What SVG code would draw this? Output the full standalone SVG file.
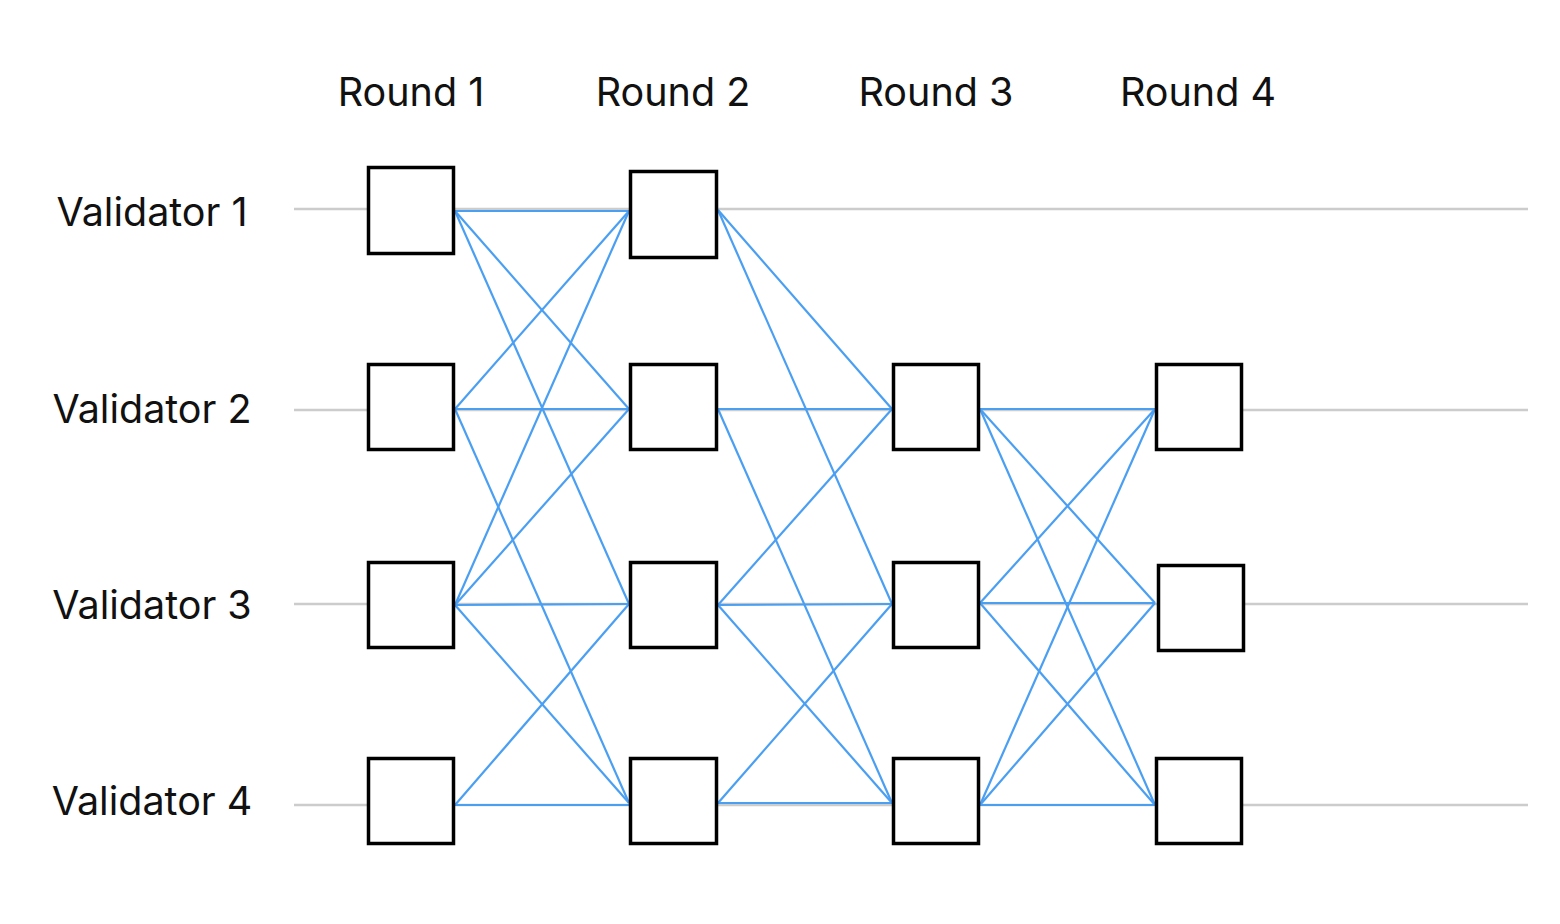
<svg xmlns="http://www.w3.org/2000/svg" width="1560" height="924" viewBox="0 0 1560 924">
<style>
.lbl{font-family:Inter,Roboto,"Liberation Sans",sans-serif;font-size:39.5px;fill:#111;text-anchor:middle}
.lane{stroke:#cccccc;stroke-width:2.5;fill:none}
.box{fill:#fff;stroke:#000;stroke-width:3.5}
.e{stroke:#4a9ff2;stroke-width:2.2;fill:none}
</style>
<rect width="1560" height="924" fill="#fff"/>
<g id="round-labels">
<text class="lbl" x="411" y="106">Round 1</text>
<text class="lbl" x="673" y="106">Round 2</text>
<text class="lbl" x="936" y="106">Round 3</text>
<text class="lbl" x="1198" y="106">Round 4</text>
</g>
<g id="validator-labels">
<text class="lbl" x="152" y="226">Validator 1</text>
<text class="lbl" x="152" y="423">Validator 2</text>
<text class="lbl" x="152" y="619">Validator 3</text>
<text class="lbl" x="152" y="815">Validator 4</text>
</g>
<g id="lanes">
<line class="lane" x1="294" y1="209" x2="1528" y2="209"/>
<line class="lane" x1="294" y1="410" x2="1528" y2="410"/>
<line class="lane" x1="294" y1="604" x2="1528" y2="604"/>
<line class="lane" x1="294" y1="805" x2="1528" y2="805"/>
</g>
<g id="connectors">
<line class="e" x1="455" y1="211" x2="629" y2="211"/>
<line class="e" x1="455" y1="211" x2="629" y2="409"/>
<line class="e" x1="455" y1="211" x2="629" y2="604"/>
<line class="e" x1="455" y1="409" x2="629" y2="211"/>
<line class="e" x1="455" y1="409" x2="629" y2="409"/>
<line class="e" x1="455" y1="409" x2="629" y2="803"/>
<line class="e" x1="455" y1="605" x2="629" y2="211"/>
<line class="e" x1="455" y1="605" x2="629" y2="409"/>
<line class="e" x1="455" y1="605" x2="629" y2="604"/>
<line class="e" x1="455" y1="605" x2="629" y2="803"/>
<line class="e" x1="455" y1="805" x2="629" y2="604"/>
<line class="e" x1="455" y1="805" x2="629" y2="805"/>
<line class="e" x1="718" y1="210" x2="892" y2="409"/>
<line class="e" x1="718" y1="210" x2="892" y2="604"/>
<line class="e" x1="718" y1="409" x2="892" y2="409"/>
<line class="e" x1="718" y1="409" x2="892" y2="803"/>
<line class="e" x1="718" y1="605" x2="892" y2="409"/>
<line class="e" x1="718" y1="605" x2="892" y2="604"/>
<line class="e" x1="718" y1="605" x2="892" y2="803"/>
<line class="e" x1="718" y1="803" x2="892" y2="604"/>
<line class="e" x1="718" y1="803" x2="892" y2="803"/>
<line class="e" x1="980" y1="409" x2="1155" y2="409"/>
<line class="e" x1="980" y1="409" x2="1155" y2="603"/>
<line class="e" x1="980" y1="409" x2="1155" y2="805"/>
<line class="e" x1="980" y1="603" x2="1155" y2="409"/>
<line class="e" x1="980" y1="603" x2="1155" y2="603"/>
<line class="e" x1="980" y1="603" x2="1155" y2="805"/>
<line class="e" x1="980" y1="805" x2="1155" y2="409"/>
<line class="e" x1="980" y1="805" x2="1155" y2="603"/>
<line class="e" x1="980" y1="805" x2="1155" y2="805"/>
</g>
<g id="r1v1"><rect class="box" x="368.5" y="167.5" width="85" height="86"/></g>
<g id="r1v2"><rect class="box" x="368.5" y="364.5" width="85" height="85"/></g>
<g id="r1v3"><rect class="box" x="368.5" y="562.5" width="85" height="85"/></g>
<g id="r1v4"><rect class="box" x="368.5" y="758.5" width="85" height="85"/></g>
<g id="r2v1"><rect class="box" x="630.5" y="171.5" width="86" height="86"/></g>
<g id="r2v2"><rect class="box" x="630.5" y="364.5" width="86" height="85"/></g>
<g id="r2v3"><rect class="box" x="630.5" y="562.5" width="86" height="85"/></g>
<g id="r2v4"><rect class="box" x="630.5" y="758.5" width="86" height="85"/></g>
<g id="r3v2"><rect class="box" x="893.5" y="364.5" width="85" height="85"/></g>
<g id="r3v3"><rect class="box" x="893.5" y="562.5" width="85" height="85"/></g>
<g id="r3v4"><rect class="box" x="893.5" y="758.5" width="85" height="85"/></g>
<g id="r4v2"><rect class="box" x="1156.5" y="364.5" width="85" height="85"/></g>
<g id="r4v3"><rect class="box" x="1158.5" y="565.5" width="85" height="85"/></g>
<g id="r4v4"><rect class="box" x="1156.5" y="758.5" width="85" height="85"/></g>
</svg>
